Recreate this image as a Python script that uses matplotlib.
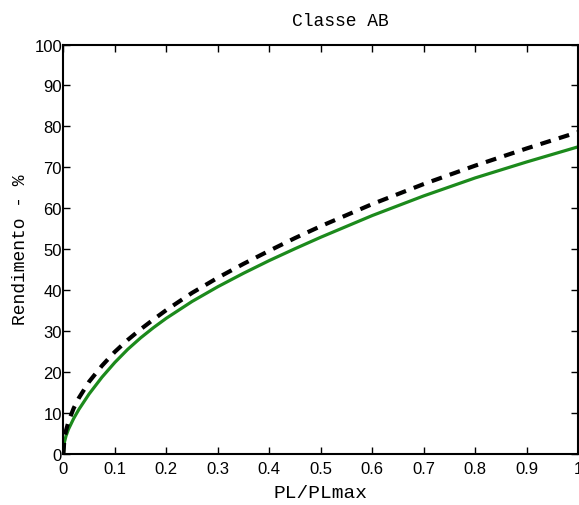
import matplotlib
matplotlib.use("Agg")
import matplotlib.pyplot as plt

# PL/PLmax and efficiency (%)
pl_ratio = [0, 0.002, 0.005, 0.01, 0.02, 0.03, 0.05, 0.075, 0.1, 0.125, 0.15,
            0.175, 0.2, 0.25, 0.3, 0.35, 0.4, 0.45, 0.5, 0.6, 0.7, 0.8, 0.9, 1.0]
eff_real = [0, 2.8, 4.3, 6.0, 8.6, 10.8, 14.6, 18.7, 22.3, 25.5, 28.3,
            30.8, 33.1, 37.2, 40.8, 44.1, 47.2, 50.1, 52.9, 58.2, 63.0, 67.4, 71.3, 75.0]
eff_ideal = [0, 3.8, 5.6, 7.9, 11.1, 13.6, 17.6, 21.5, 24.9, 27.8, 30.4,
             32.8, 35.1, 39.3, 43.0, 46.4, 49.6, 52.7, 55.6, 61.0, 65.9, 70.4, 74.6, 78.6]

xticks = [0, 0.1, 0.2, 0.3, 0.4, 0.5, 0.6, 0.7, 0.8, 0.9, 1]
xticklabels = ["0", "0.1", "0.2", "0.3", "0.4", "0.5", "0.6", "0.7", "0.8", "0.9", "1"]
yticks = [0, 10, 20, 30, 40, 50, 60, 70, 80, 90, 100]

fig = plt.figure(figsize=(5.79, 5.06), dpi=100)
ax = fig.add_axes([0.1095, 0.1015, 0.889, 0.8085])

ax.plot(pl_ratio, eff_real, color="#1c8a1c", linewidth=2.3)
ax.plot(pl_ratio, eff_ideal, color="black", linewidth=3, linestyle=(0, (2.6, 2.0)))

ax.set_xlim(0, 1)
ax.set_ylim(0, 100)
ax.set_xticks(xticks)
ax.set_xticklabels(xticklabels)
ax.set_yticks(yticks)
ax.tick_params(direction="in", top=True, right=True, length=5, width=1,
               labelsize=12, pad=1)
ax.tick_params(axis="x", pad=5)
for lbl in ax.get_xticklabels() + ax.get_yticklabels():
    lbl.set_family("Liberation Sans")
for s in ax.spines.values():
    s.set_linewidth(1.5)

fig.text(340 / 579, 1 - 22 / 506, "Classe AB", family="Liberation Mono",
         fontsize=13, ha="center", va="center")
ax.set_xlabel("PL/PLmax", family="Liberation Mono", fontsize=14, labelpad=6)
ax.set_ylabel("Rendimento - %", family="Liberation Mono", fontsize=13, labelpad=4)

fig.savefig("out.png", dpi=100)
